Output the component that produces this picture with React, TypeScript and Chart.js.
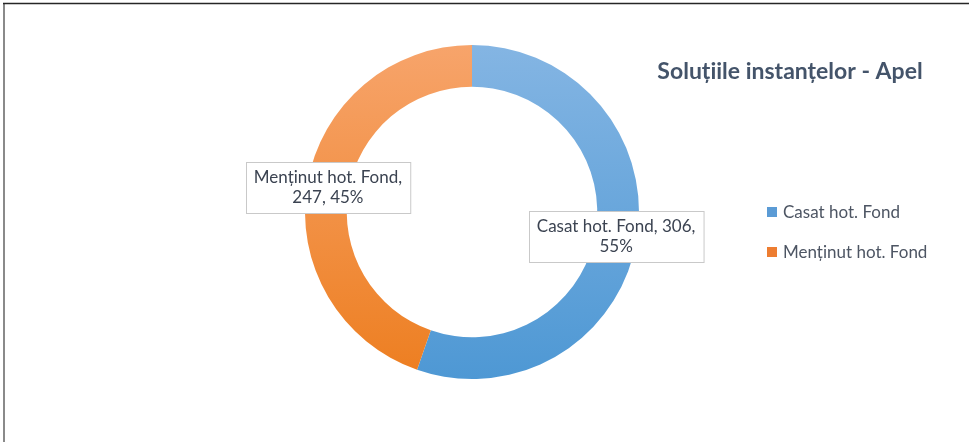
import React, { useEffect, useRef } from "react";
import { Chart, registerables } from "chart.js";

Chart.register(...registerables);

const categories = ["Casat hot. Fond", "Menținut hot. Fond"];
const values = [306, 247];
const percentLabels = ["55%", "45%"];
const chartTitle = "Soluțiile instanțelor - Apel";

const gradientTop = ["#84b5e3", "#f7a46b"];
const gradientBottom = ["#4e98d4", "#ed7e20"];
const legendColors = ["#5b9bd5", "#ed7d31"];

const FONT = "Lato, 'Open Sans', sans-serif";

function wrap(ctx: CanvasRenderingContext2D, text: string, maxW: number): string[] {
  const words = text.split(" ");
  const lines: string[] = [];
  let cur = "";
  for (const w of words) {
    const t = cur ? cur + " " + w : w;
    if (ctx.measureText(t).width > maxW && cur) {
      lines.push(cur);
      cur = w;
    } else cur = t;
  }
  if (cur) lines.push(cur);
  return lines;
}

const decorPlugin = {
  id: "decor",
  afterDraw(chart: any) {
    const ctx: CanvasRenderingContext2D = chart.ctx;
    ctx.save();
    // frame
    ctx.strokeStyle = "#8a8a8a";
    ctx.lineWidth = 2;
    ctx.beginPath();
    ctx.moveTo(4, 3);
    ctx.lineTo(4, 442);
    ctx.stroke();
    ctx.strokeStyle = "#262626";
    ctx.lineWidth = 1.5;
    ctx.beginPath();
    ctx.moveTo(3, 3.5);
    ctx.lineTo(969, 3.5);
    ctx.stroke();

    // title
    ctx.fillStyle = "#44546a";
    ctx.font = `bold 23px ${FONT}`;
    ctx.textAlign = "center";
    ctx.textBaseline = "middle";
    ctx.fillText(chartTitle, 790, 72);

    // legend
    ctx.font = `17px ${FONT}`;
    ctx.textAlign = "left";
    categories.forEach((c, i) => {
      const y = 212 + i * 40;
      ctx.fillStyle = legendColors[i];
      ctx.fillRect(767, y - 5, 10, 10);
      ctx.fillStyle = "#4d5563";
      ctx.fillText(c, 783, y + 1);
    });

    // data labels
    const meta = chart.getDatasetMeta(0);
    ctx.font = `17px ${FONT}`;
    meta.data.forEach((arc: any, i: number) => {
      const p = arc.tooltipPosition(false);
      const text = `${categories[i]}, ${values[i]}, ${percentLabels[i]}`;
      const lines = wrap(ctx, text, 172);
      const lh = 19.5;
      const widths = lines.map((l) => ctx.measureText(l).width);
      const bw = Math.max(...widths) + 16;
      const bh = lines.length * lh + 12;
      const x0 = Math.round(p.x - bw / 2) + 0.5;
      const y0 = Math.round(p.y - bh / 2) + 0.5;
      ctx.fillStyle = "#ffffff";
      ctx.fillRect(x0, y0, bw, bh);
      ctx.strokeStyle = "#c9c9c9";
      ctx.lineWidth = 1;
      ctx.strokeRect(x0, y0, bw, bh);
      ctx.fillStyle = "#3b4351";
      ctx.textAlign = "center";
      ctx.textBaseline = "middle";
      lines.forEach((l, k) => {
        ctx.fillText(l, p.x, p.y - ((lines.length - 1) * lh) / 2 + k * lh);
      });
    });
    ctx.restore();
  },
};

export default function App() {
  const ref = useRef<HTMLCanvasElement | null>(null);
  useEffect(() => {
    document.body.style.margin = "0";
    const canvas = ref.current!;
    const chart = new Chart(canvas, {
      type: "doughnut",
      data: {
        labels: categories,
        datasets: [
          {
            data: values,
            borderWidth: 0,
            backgroundColor: (c: any) => {
              const a = c.chart.chartArea;
              const i = c.dataIndex;
              if (!a) return legendColors[i];
              const g = c.chart.ctx.createLinearGradient(0, a.top, 0, a.bottom);
              g.addColorStop(0, gradientTop[i]);
              g.addColorStop(1, gradientBottom[i]);
              return g;
            },
          },
        ],
      },
      options: {
        responsive: false,
        maintainAspectRatio: false,
        animation: false,
        cutout: "75%",
        events: [],
        layout: { padding: { left: 305, right: 330, top: 45, bottom: 63 } },
        plugins: {
          legend: { display: false },
          tooltip: { enabled: false },
          title: { display: false },
        },
      },
      plugins: [decorPlugin],
    });
    return () => chart.destroy();
  }, []);
  return (
    <div style={{ position: "absolute", left: 0, top: 0, width: 969, height: 442, background: "#fff" }}>
      <canvas ref={ref} width={969} height={442} style={{ display: "block" }} />
    </div>
  );
}
